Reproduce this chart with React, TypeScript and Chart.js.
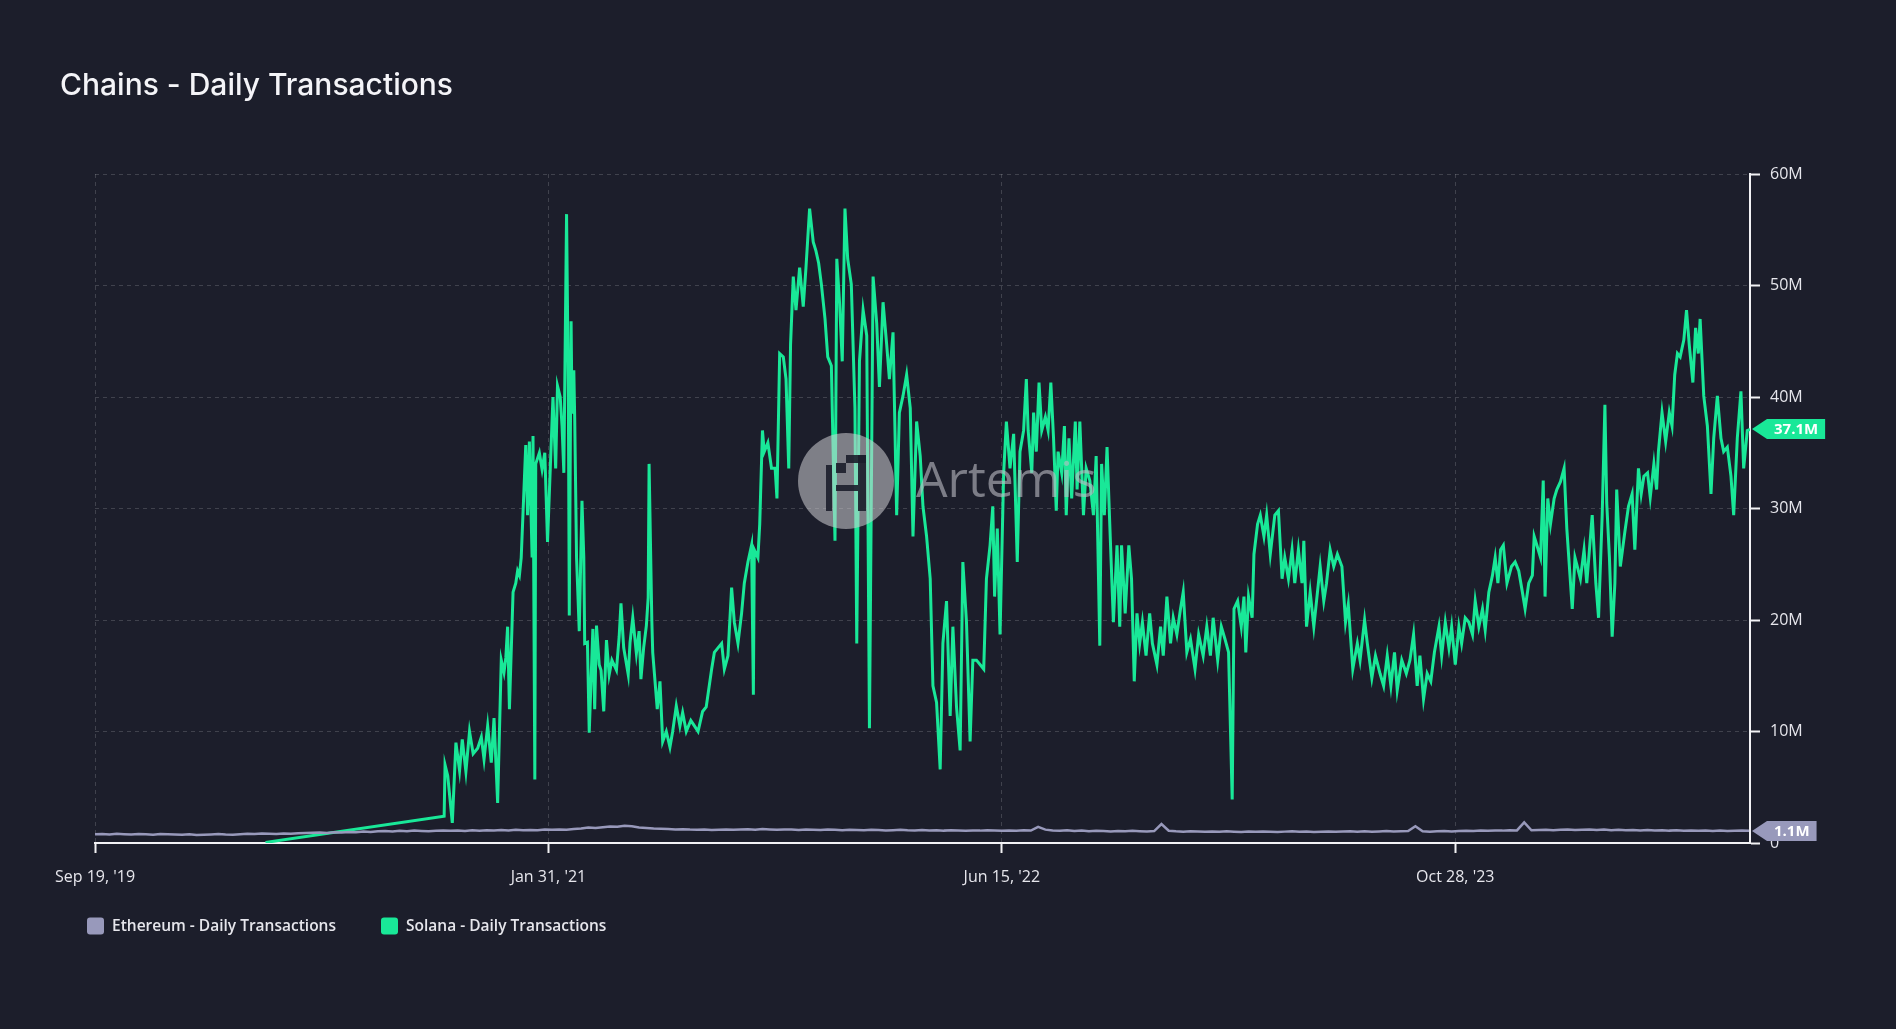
import React, { useEffect, useRef } from "react";
import { Chart, registerables } from "chart.js";

Chart.register(...registerables);

const TITLE = "Chains - Daily Transactions";
const WATERMARK = "Artemis";

const seriesNames = ["Ethereum - Daily Transactions", "Solana - Daily Transactions"];
const seriesColors = ["#9899bb", "#19e898"];

// x axis: days since Sep 19, 2019
const xMaxDay = 1825;
const xTickDays = [0, 500, 1000, 1500];
const xTickLabels = ["Sep 19, '19", "Jan 31, '21", "Jun 15, '22", "Oct 28, '23"];

// y axis (millions)
const yTickValues = [0, 10, 20, 30, 40, 50, 60];
const yTickLabels = ["0", "10M", "20M", "30M", "40M", "50M", "60M"];

// Ethereum daily transactions (millions), one value every 8 days from day 0
const ethStepDays = 8;
const ethValues = [
  0.78, 0.80, 0.76, 0.82, 0.79, 0.77, 0.81, 0.78, 0.75, 0.80,
  0.79, 0.76, 0.74, 0.78, 0.72, 0.75, 0.77, 0.80, 0.76, 0.74,
  0.78, 0.82, 0.80, 0.85, 0.83, 0.81, 0.86, 0.84, 0.88, 0.90,
  0.92, 0.95, 0.90, 0.97, 0.94, 0.99, 0.96, 1.02, 0.98, 1.05,
  1.08, 1.04, 1.10, 1.06, 1.12, 1.08, 1.05, 1.10, 1.13, 1.09,
  1.12, 1.08, 1.14, 1.10, 1.15, 1.12, 1.16, 1.13, 1.18, 1.14,
  1.17, 1.15, 1.20, 1.18, 1.22, 1.19, 1.25, 1.30, 1.38, 1.35,
  1.42, 1.48, 1.45, 1.55, 1.50, 1.40, 1.35, 1.30, 1.28, 1.25,
  1.22, 1.24, 1.20, 1.18, 1.21, 1.17, 1.19, 1.22, 1.18, 1.20,
  1.23, 1.19, 1.25, 1.21, 1.18, 1.22, 1.20, 1.17, 1.21, 1.19,
  1.16, 1.20, 1.18, 1.15, 1.19, 1.17, 1.14, 1.18, 1.16, 1.13,
  1.15, 1.18, 1.14, 1.12, 1.16, 1.13, 1.15, 1.11, 1.14, 1.12,
  1.10, 1.13, 1.11, 1.15, 1.12, 1.09, 1.13, 1.10, 1.14, 1.12,
  1.45, 1.20, 1.12, 1.10, 1.14, 1.08, 1.12, 1.05, 1.10, 1.07,
  1.04, 1.08, 1.05, 1.09, 1.06, 1.03, 1.07, 1.70, 1.10, 1.05,
  1.02, 1.06, 1.03, 1.00, 1.04, 1.01, 1.05, 1.02, 0.99, 1.03,
  1.00, 1.04, 1.01, 0.98, 1.02, 1.05, 1.01, 1.03, 0.99, 1.02,
  1.04, 1.00, 1.03, 1.06, 1.02, 1.05, 1.01, 1.04, 1.07, 1.03,
  1.05, 1.08, 1.50, 1.06, 1.02, 1.05, 1.08, 1.04, 1.07, 1.10,
  1.08, 1.12, 1.09, 1.13, 1.11, 1.15, 1.13, 1.85, 1.14, 1.17,
  1.19, 1.15, 1.18, 1.21, 1.16, 1.19, 1.22, 1.17, 1.20, 1.15,
  1.18, 1.14, 1.17, 1.13, 1.16, 1.12, 1.15, 1.11, 1.14, 1.10,
  1.13, 1.09, 1.12, 1.08, 1.11, 1.07, 1.10, 1.12, 1.10,
];

// Solana daily transactions (millions): days and values
const solDays = [
  188, 385, 386, 389, 394, 398, 402, 405, 409, 413, 417, 422, 426, 429, 433, 437, 440, 444, 448, 451,
  453, 455, 457, 461, 464, 466, 468, 470, 475, 477, 479, 482, 483, 485, 486, 490, 493, 496, 499, 502,
  505, 508, 510, 513, 515, 517, 520, 522, 523, 525, 526, 528, 529, 531, 534, 537, 539, 540, 543, 545,
  549, 551, 553, 556, 558, 561, 564, 567, 570, 575, 578, 580, 583, 588, 590, 593, 597, 600, 602, 605,
  608, 610, 611, 614, 615, 620, 623, 626, 630, 634, 637, 641, 645, 648, 652, 657, 661, 665, 670, 674,
  680, 683, 687, 691, 694, 698, 702, 705, 709, 713, 716, 720, 724, 726, 727, 731, 733, 736, 738, 742,
  746, 750, 752, 755, 759, 762, 765, 767, 770, 773, 777, 781, 784, 788, 792, 795, 798, 801, 805, 808,
  812, 816, 818, 821, 824, 827, 830, 834, 838, 840, 843, 847, 851, 854, 858, 862, 865, 869, 873, 876,
  880, 884, 887, 891, 895, 899, 902, 906, 910, 913, 917, 921, 924, 928, 932, 935, 939, 943, 946, 950,
  954, 957, 961, 965, 968, 972, 980, 983, 987, 990, 992, 995, 998, 1002, 1005, 1009, 1013, 1017, 1020, 1024,
  1027, 1029, 1033, 1035, 1038, 1041, 1044, 1048, 1051, 1054, 1057, 1060, 1062, 1066, 1069, 1071, 1074, 1077, 1081, 1083,
  1086, 1090, 1093, 1097, 1101, 1104, 1108, 1110, 1113, 1116, 1119, 1123, 1127, 1130, 1132, 1136, 1140, 1143, 1146, 1149,
  1152, 1155, 1159, 1163, 1166, 1171, 1175, 1178, 1182, 1186, 1189, 1193, 1197, 1200, 1204, 1208, 1213, 1217, 1222, 1226,
  1230, 1233, 1238, 1242, 1246, 1250, 1254, 1256, 1260, 1264, 1267, 1269, 1272, 1276, 1278, 1282, 1285, 1289, 1292, 1296,
  1301, 1305, 1309, 1312, 1316, 1320, 1323, 1327, 1331, 1333, 1336, 1340, 1344, 1347, 1351, 1355, 1358, 1362, 1366, 1370,
  1375, 1379, 1382, 1387, 1392, 1395, 1400, 1403, 1408, 1412, 1417, 1421, 1425, 1429, 1433, 1436, 1441, 1446, 1450, 1454,
  1458, 1461, 1465, 1469, 1473, 1477, 1482, 1485, 1489, 1493, 1496, 1500, 1504, 1507, 1511, 1515, 1519, 1522, 1526, 1530,
  1533, 1537, 1541, 1544, 1547, 1550, 1553, 1557, 1562, 1566, 1570, 1574, 1577, 1581, 1585, 1587, 1590, 1594, 1597, 1599,
  1602, 1605, 1609, 1612, 1616, 1620, 1623, 1629, 1632, 1638, 1642, 1645, 1651, 1655, 1658, 1662, 1665, 1667, 1670, 1673,
  1676, 1678, 1682, 1687, 1691, 1695, 1698, 1702, 1705, 1708, 1712, 1715, 1719, 1722, 1724, 1728, 1732, 1736, 1739, 1742,
  1745, 1748, 1752, 1755, 1758, 1762, 1765, 1768, 1770, 1774, 1778, 1782, 1785, 1789, 1793, 1796, 1800, 1804, 1807, 1811,
  1815, 1818, 1822, 1825,
];
const solValues = [
  0.05, 2.4, 7.0, 6.0, 1.8, 9.0, 6.5, 9.3, 6.4, 10.0, 8.0, 8.5, 9.5, 7.5, 10.5, 7.2, 11.2, 3.6, 16.4, 15.3,
  16.6, 19.4, 12.0, 22.5, 23.3, 24.4, 24.0, 25.6, 35.7, 29.4, 36.0, 25.6, 36.5, 5.7, 34.0, 35.0, 33.5, 35.0, 27.0, 33.5,
  40.0, 33.6, 41.0, 40.0, 37.4, 33.2, 56.4, 40.0, 20.4, 46.8, 38.5, 42.4, 38.0, 25.6, 19.0, 30.7, 25.6, 17.9, 18.0, 9.9,
  19.2, 12.0, 19.5, 16.0, 15.5, 11.8, 18.2, 15.1, 16.4, 15.5, 18.5, 21.5, 17.5, 15.1, 18.0, 20.2, 17.0, 19.0, 14.7, 17.5,
  19.5, 22.0, 34.0, 20.0, 17.1, 12.0, 14.5, 9.1, 10.0, 8.6, 10.0, 12.3, 10.5, 11.7, 10.0, 11.0, 10.5, 10.0, 11.8, 12.2,
  15.6, 17.1, 17.5, 17.9, 15.6, 16.8, 22.9, 19.8, 17.9, 20.6, 23.3, 25.2, 26.7, 13.3, 26.3, 25.6, 28.6, 37.0, 35.1, 35.9,
  33.6, 33.6, 30.9, 43.9, 43.6, 41.6, 33.6, 44.7, 50.8, 47.8, 51.6, 48.1, 51.6, 56.9, 53.9, 53.1, 52.0, 50.1, 47.0, 43.6,
  42.8, 27.1, 52.4, 48.5, 43.2, 56.9, 52.4, 50.1, 39.0, 17.9, 43.2, 47.8, 45.5, 10.3, 50.8, 46.6, 40.9, 48.5, 44.7, 41.6,
  45.8, 29.4, 38.6, 40.1, 42.0, 39.0, 27.5, 37.8, 34.7, 30.2, 27.5, 23.7, 14.1, 12.6, 6.6, 17.9, 21.7, 11.4, 19.4, 12.2,
  8.3, 25.2, 19.8, 9.1, 16.4, 16.4, 15.6, 23.7, 26.7, 30.2, 22.1, 28.2, 18.7, 33.2, 37.8, 33.6, 36.7, 25.2, 35.1, 37.0,
  41.6, 37.0, 33.2, 38.6, 35.1, 41.3, 37.0, 38.2, 37.0, 41.3, 36.3, 29.8, 35.1, 33.2, 37.4, 29.4, 36.3, 30.9, 37.8, 31.7,
  37.8, 29.4, 33.6, 32.5, 29.4, 34.7, 17.7, 34.0, 29.4, 35.5, 28.6, 19.8, 26.7, 19.4, 26.7, 20.6, 26.7, 23.7, 14.5, 20.6,
  17.9, 19.8, 16.8, 20.6, 17.9, 16.0, 19.4, 16.8, 22.1, 17.9, 20.2, 18.7, 21.0, 22.5, 17.1, 18.3, 15.6, 18.7, 16.8, 19.4,
  16.8, 20.2, 16.4, 19.4, 18.3, 17.1, 3.9, 21.0, 21.7, 19.4, 22.1, 17.1, 22.1, 20.2, 25.9, 28.6, 29.4, 27.5, 29.4, 25.9,
  29.4, 29.8, 23.7, 25.6, 23.7, 26.3, 23.3, 26.3, 23.3, 27.1, 19.4, 22.5, 19.4, 21.7, 24.8, 21.7, 23.3, 26.3, 24.8, 25.9,
  24.8, 19.8, 21.4, 15.6, 17.9, 16.4, 20.0, 17.9, 14.8, 16.8, 15.2, 14.1, 16.8, 14.1, 17.1, 13.7, 16.4, 15.2, 16.4, 18.7,
  14.1, 16.8, 12.9, 15.2, 14.5, 17.1, 19.4, 16.8, 19.8, 17.5, 19.4, 16.0, 19.4, 17.9, 20.2, 19.8, 18.7, 21.7, 19.4, 21.0,
  19.1, 22.5, 24.0, 25.6, 23.3, 26.3, 26.7, 23.3, 24.8, 25.2, 24.4, 22.5, 21.0, 23.3, 24.0, 27.5, 26.7, 25.6, 32.5, 22.1,
  30.9, 28.6, 30.9, 31.7, 32.4, 33.6, 28.2, 21.0, 25.6, 23.7, 26.3, 23.3, 29.4, 23.3, 20.2, 29.4, 39.3, 30.5, 25.6, 18.5,
  23.3, 31.7, 24.8, 27.9, 30.2, 31.3, 26.3, 33.6, 31.3, 32.9, 33.2, 31.0, 34.0, 31.7, 35.1, 38.6, 36.0, 38.6, 37.4, 42.0,
  43.9, 43.6, 45.1, 47.8, 44.7, 41.3, 46.2, 43.9, 47.0, 40.1, 37.4, 31.3, 36.3, 40.1, 36.3, 35.1, 35.5, 32.9, 29.4, 36.3,
  40.5, 33.6, 37.0, 37.1,
];

const BG = "#1c1e2b";
const GRID = "rgba(255,255,255,0.16)";
const AXIS = "#f2f2f5";
const TEXT = "#e6e6ec";

export default function App() {
  const ref = useRef<HTMLCanvasElement | null>(null);

  useEffect(() => {
    document.body.style.margin = "0";
    document.body.style.background = BG;
    const canvas = ref.current;
    if (!canvas) return;

    const ethData = ethValues.map((v, i) => ({ x: i * ethStepDays, y: v }));
    const solData = solDays.map((d, i) => ({ x: d, y: solValues[i] }));

    const decorPlugin = {
      id: "decor",
      beforeDraw(chart: any) {
        const c = chart.ctx;
        c.save();
        c.fillStyle = BG;
        c.fillRect(0, 0, chart.width, chart.height);
        c.restore();
      },
      afterDatasetsDraw(chart: any) {
        const c = chart.ctx;
        const cx = 846;
        const cy = 481;
        const r = 48;
        c.save();
        c.globalAlpha = 0.55;
        c.fillStyle = "#cfcfd4";
        c.beginPath();
        c.arc(cx, cy, r, 0, Math.PI * 2);
        c.fill();
        c.fillStyle = BG;
        c.globalAlpha = 0.9;
        c.fillRect(cx - 20, cy - 16, 6, 46);
        c.fillRect(cx - 10, cy - 18, 10, 10);
        c.fillRect(cx, cy - 26, 20, 8);
        c.fillRect(cx + 12, cy - 26, 8, 56);
        c.fillRect(cx - 10, cy + 4, 22, 6);
        c.globalAlpha = 0.6;
        c.fillStyle = "#bdbdc4";
        c.font = "400 50px 'Open Sans', sans-serif";
        c.textBaseline = "middle";
        c.textAlign = "left";
        c.fillText(WATERMARK, 916, cy + 2);
        c.restore();
      },
      afterDraw(chart: any) {
        const c = chart.ctx;
        const area = chart.chartArea;
        c.save();
        // title
        c.fillStyle = "#f4f4f8";
        c.font = "500 30px Inter, sans-serif";
        c.textBaseline = "middle";
        c.textAlign = "left";
        c.fillText(TITLE, 60, 86);

        // legend
        const legendY = 926;
        const legendX = [87, 381];
        c.font = "600 15.5px 'Open Sans', sans-serif";
        seriesNames.forEach((name, i) => {
          c.fillStyle = seriesColors[i];
          c.beginPath();
          (c as any).roundRect(legendX[i], legendY - 8.5, 17, 17, 3);
          c.fill();
          c.fillStyle = TEXT;
          c.fillText(name, legendX[i] + 25, legendY + 1);
        });

        // last-value tags
        const yScale = chart.scales.y;
        c.font = "700 15px 'Open Sans', sans-serif";
        chart.data.datasets.forEach((ds: any, i: number) => {
          const last = ds.data[ds.data.length - 1];
          const y = Math.round(yScale.getPixelForValue(last.y));
          const label = last.y.toFixed(1) + "M";
          const tip = area.right + 2;
          const boxL = tip + 15;
          const w = c.measureText(label).width + 14;
          const h = 20;
          c.fillStyle = seriesColors[i];
          c.beginPath();
          c.moveTo(tip, y);
          c.lineTo(boxL, y - h / 2);
          c.lineTo(boxL + w, y - h / 2);
          c.lineTo(boxL + w, y + h / 2);
          c.lineTo(boxL, y + h / 2);
          c.closePath();
          c.fill();
          c.fillStyle = "#ffffff";
          c.textAlign = "center";
          c.fillText(label, boxL + w / 2, y + 1);
          c.textAlign = "left";
        });
        c.restore();
      },
    };

    const chart = new Chart(canvas, {
      type: "line",
      data: {
        datasets: [
          {
            label: seriesNames[0],
            data: ethData,
            borderColor: seriesColors[0],
            backgroundColor: seriesColors[0],
            borderWidth: 2.5,
            pointRadius: 0,
            tension: 0,
          },
          {
            label: seriesNames[1],
            data: solData,
            borderColor: seriesColors[1],
            backgroundColor: seriesColors[1],
            borderWidth: 3,
            pointRadius: 0,
            tension: 0,
          },
        ],
      },
      options: {
        responsive: false,
        animation: false,
        events: [],
        layout: { padding: { left: 95, right: 0, top: 174, bottom: 126 } },
        plugins: {
          legend: { display: false },
          title: { display: false },
          tooltip: { enabled: false },
        },
        scales: {
          x: {
            type: "linear",
            min: 0,
            max: xMaxDay,
            afterBuildTicks: (s: any) => {
              s.ticks = xTickDays.map((v) => ({ value: v }));
            },
            afterFit: (s: any) => {
              s.height = 60;
            },
            ticks: {
              autoSkip: false,
              maxRotation: 0,
              padding: 15,
              color: TEXT,
              font: { family: "'Open Sans', sans-serif", size: 16 },
              callback: (v: any) => {
                const idx = xTickDays.indexOf(Number(v));
                return idx >= 0 ? xTickLabels[idx] : "";
              },
            },
            grid: {
              color: GRID,
              lineWidth: 1,
              tickColor: AXIS,
              tickLength: 10,
              tickWidth: 2,
              tickBorderDash: [],
            },
            border: { color: AXIS, width: 2, dash: [4, 4] },
          },
          y: {
            type: "linear",
            position: "right",
            min: 0,
            max: 60,
            afterBuildTicks: (s: any) => {
              s.ticks = yTickValues.map((v) => ({ value: v }));
            },
            afterFit: (s: any) => {
              s.width = 146;
            },
            ticks: {
              padding: 10,
              color: TEXT,
              font: { family: "'Open Sans', sans-serif", size: 16 },
              callback: (v: any) => {
                const idx = yTickValues.indexOf(Number(v));
                return idx >= 0 ? yTickLabels[idx] : "";
              },
            },
            grid: {
              color: GRID,
              lineWidth: 1,
              tickColor: AXIS,
              tickLength: 10,
              tickWidth: 2,
              tickBorderDash: [],
            },
            border: { color: AXIS, width: 2, dash: [4, 4] },
          },
        },
      },
      plugins: [decorPlugin],
    });

    return () => chart.destroy();
  }, []);

  return (
    <div style={{ width: 1896, height: 1029, background: BG, overflow: "hidden" }}>
      <canvas ref={ref} width={1896} height={1029} style={{ display: "block", width: 1896, height: 1029 }} />
    </div>
  );
}
